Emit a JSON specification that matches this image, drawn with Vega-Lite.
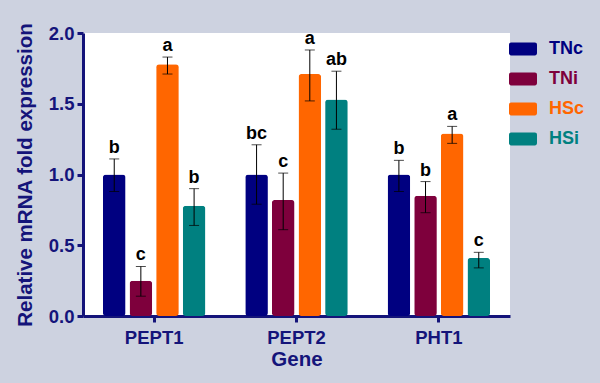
{
  "$schema": "https://vega.github.io/schema/vega-lite/v6.json",
  "width": 427,
  "height": 283,
  "autosize": "none",
  "padding": {"left": 83, "top": 33, "right": 90, "bottom": 67},
  "background": "#cdd2e0",
  "config": {
    "view": {"fill": "white", "stroke": null},
    "font": "Liberation Sans",
    "axis": {
      "domainColor": "#14147a",
      "domainWidth": 3,
      "tickColor": "#14147a",
      "tickWidth": 3,
      "tickSize": 6,
      "labelColor": "#14147a",
      "labelFont": "Liberation Sans",
      "labelFontWeight": "bold",
      "labelFontSize": 18.5,
      "titleColor": "#14147a",
      "titleFont": "Liberation Sans",
      "titleFontWeight": "bold",
      "titleFontSize": 20.5,
      "grid": false
    }
  },
  "data": {
    "values": [
      {"gene": "PEPT1", "group": "TNc", "value": 1.0, "lo": 0.88, "hi": 1.11, "letter": "b"},
      {"gene": "PEPT1", "group": "TNi", "value": 0.25, "lo": 0.14, "hi": 0.35, "letter": "c"},
      {"gene": "PEPT1", "group": "HSc", "value": 1.78, "lo": 1.71, "hi": 1.83, "letter": "a"},
      {"gene": "PEPT1", "group": "HSi", "value": 0.78, "lo": 0.64, "hi": 0.90, "letter": "b"},
      {"gene": "PEPT2", "group": "TNc", "value": 1.0, "lo": 0.79, "hi": 1.21, "letter": "bc"},
      {"gene": "PEPT2", "group": "TNi", "value": 0.82, "lo": 0.61, "hi": 1.01, "letter": "c"},
      {"gene": "PEPT2", "group": "HSc", "value": 1.71, "lo": 1.52, "hi": 1.88, "letter": "a"},
      {"gene": "PEPT2", "group": "HSi", "value": 1.53, "lo": 1.32, "hi": 1.73, "letter": "ab"},
      {"gene": "PHT1", "group": "TNc", "value": 1.0, "lo": 0.88, "hi": 1.10, "letter": "b"},
      {"gene": "PHT1", "group": "TNi", "value": 0.85, "lo": 0.73, "hi": 0.95, "letter": "b"},
      {"gene": "PHT1", "group": "HSc", "value": 1.29, "lo": 1.22, "hi": 1.34, "letter": "a"},
      {"gene": "PHT1", "group": "HSi", "value": 0.41, "lo": 0.34, "hi": 0.45, "letter": "c"}
    ]
  },
  "encoding": {
    "x": {
      "field": "gene",
      "type": "nominal",
      "sort": ["PEPT1", "PEPT2", "PHT1"],
      "scale": {"paddingInner": 0.28, "paddingOuter": 0.14},
      "axis": {"title": "Gene", "labelAngle": 0, "labelPadding": 6, "titlePadding": 3}
    },
    "xOffset": {
      "field": "group",
      "type": "nominal",
      "sort": ["TNc", "TNi", "HSc", "HSi"],
      "scale": {"paddingInner": 0.15, "paddingOuter": 0}
    }
  },
  "layer": [
    {
      "mark": {"type": "bar", "cornerRadius": 3},
      "encoding": {
        "y": {
          "field": "value",
          "type": "quantitative",
          "scale": {"domain": [0, 2], "nice": false},
          "axis": {
            "title": "Relative mRNA fold expression",
            "values": [0, 0.5, 1, 1.5, 2],
            "format": ".1f",
            "labelPadding": 3,
            "titlePadding": 13
          }
        },
        "color": {
          "field": "group",
          "type": "nominal",
          "sort": ["TNc", "TNi", "HSc", "HSi"],
          "scale": {
            "domain": ["TNc", "TNi", "HSc", "HSi"],
            "range": ["#000080", "#7e003c", "#ff6600", "#008080"]
          },
          "legend": {
            "title": null,
            "orient": "none",
            "legendX": 426,
            "legendY": 2,
            "symbolType": "M-0.85,-0.46H0.85A0.15,0.15 0 0 1 1,-0.31V0.31A0.15,0.15 0 0 1 0.85,0.46H-0.85A0.15,0.15 0 0 1 -1,0.31V-0.31A0.15,0.15 0 0 1 -0.85,-0.46Z",
            "symbolSize": 784,
            "symbolStrokeWidth": 0,
            "symbolOpacity": 1,
            "labelFont": "Liberation Sans",
            "labelFontWeight": "bold",
            "labelFontSize": 18,
            "labelOffset": 12,
            "rowPadding": 7,
            "encode": {
              "labels": {"update": {"fill": {"scale": "color", "field": "value"}}}
            }
          }
        }
      }
    },
    {
      "mark": {"type": "rule", "color": "black", "strokeWidth": 1},
      "encoding": {
        "y": {"field": "lo", "type": "quantitative"},
        "y2": {"field": "hi"}
      }
    },
    {
      "mark": {"type": "tick", "color": "black", "thickness": 1, "size": 10, "orient": "horizontal"},
      "encoding": {"y": {"field": "lo", "type": "quantitative"}}
    },
    {
      "mark": {"type": "tick", "color": "black", "thickness": 1, "size": 10, "orient": "horizontal"},
      "encoding": {"y": {"field": "hi", "type": "quantitative"}}
    },
    {
      "mark": {"type": "text", "baseline": "bottom", "dy": -2, "fontSize": 18, "fontWeight": "bold", "font": "Liberation Sans", "color": "black"},
      "encoding": {
        "y": {"field": "hi", "type": "quantitative"},
        "text": {"field": "letter"}
      }
    }
  ]
}
